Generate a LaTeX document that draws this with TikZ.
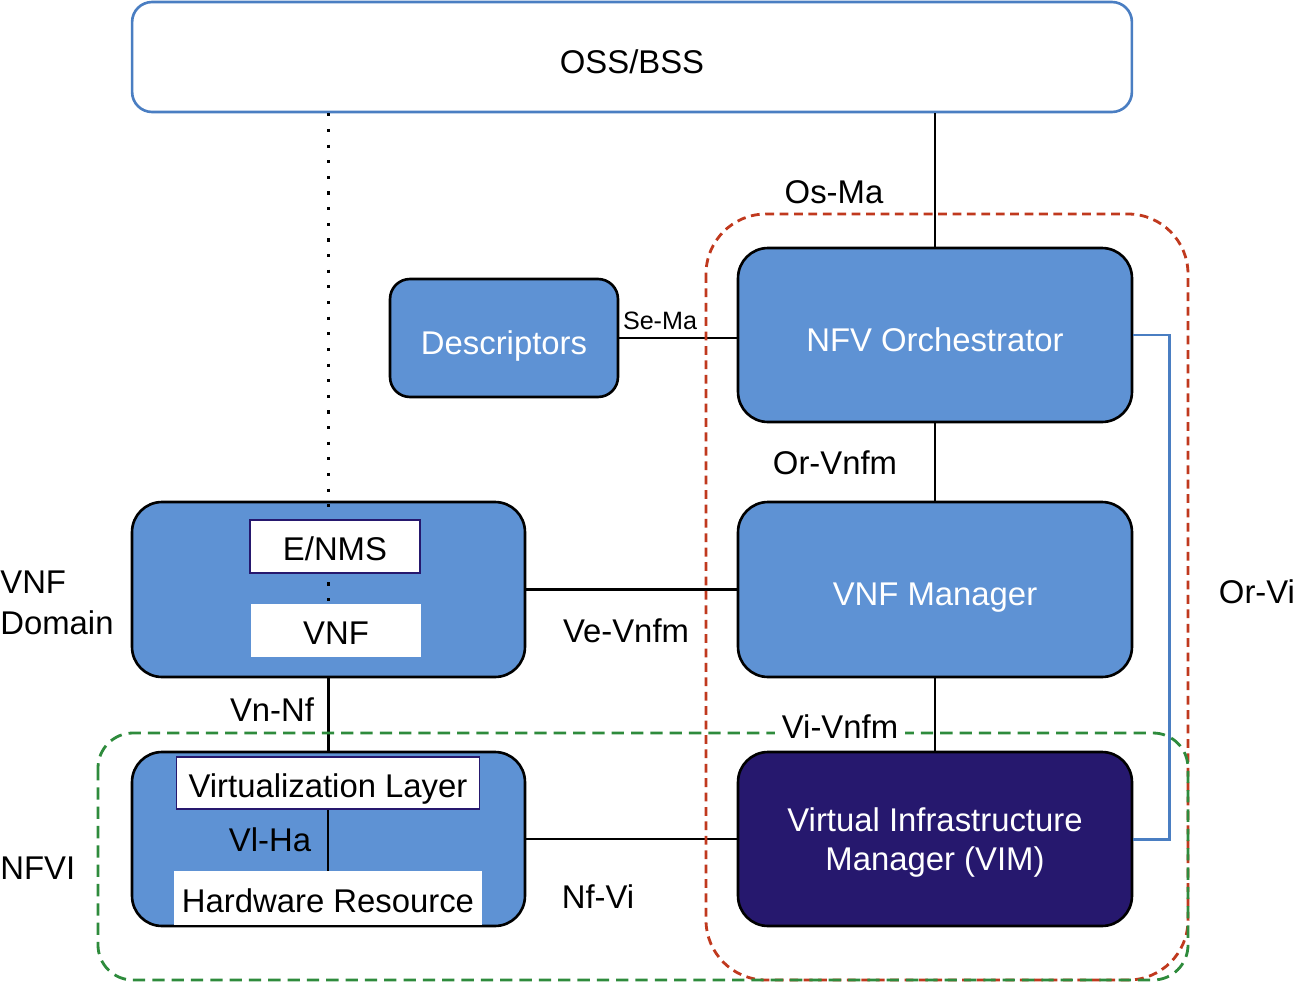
\documentclass[tikz,border=0pt]{standalone}
\usepackage{fontspec}
\setmainfont{Liberation Sans}
\usetikzlibrary{positioning, calc}
\definecolor{boxblue}{RGB}{94, 146, 212}
\definecolor{ossblue}{RGB}{74, 126, 194}
\definecolor{vimnavy}{RGB}{38, 24, 110}
\definecolor{framered}{RGB}{192, 57, 30}
\definecolor{framegreen}{RGB}{46, 139, 60}
\tikzstyle{block} = [draw=black, fill=boxblue, rounded corners=0.6cm, line width=1.5pt, text=white, align=center, font=\fontsize{18.7}{22.5}\selectfont, inner sep=0pt, text height=0.65cm, text depth=0pt]
\tikzstyle{inbox} = [draw=vimnavy, fill=white, line width=1.1pt, font=\fontsize{18.7}{22}\selectfont, inner sep=0pt, text height=0.56cm, text depth=0pt]
\tikzstyle{link} = [line width=1.5pt]
\tikzstyle{lbl} = [font=\fontsize{18.7}{23}\selectfont, inner sep=0pt]

\begin{document}
\begin{tikzpicture}[x=0.02cm, y=-0.02cm]
    \useasboundingbox (0,0) rectangle (1296,984);

    % Management side
    \node[block, draw=ossblue, fill=white, text=black, rounded corners=0.4cm, minimum width=20cm, minimum height=2.2cm] (oss) at (632,57) {OSS/BSS};
    \node[block, rounded corners=0.4cm, minimum width=4.56cm, minimum height=2.36cm] (desc) at (504,338) {Descriptors};
    \node[block, minimum width=7.88cm, minimum height=3.48cm] (nfvo) at (935,335) {NFV Orchestrator};
    \node[block, minimum width=7.88cm, minimum height=3.5cm] (vnfm) at (935,589.5) {VNF Manager};
    \node[block, fill=vimnavy, minimum width=7.88cm, minimum height=3.48cm, text height=, text depth=0pt] (vim) at (935,839) {Virtual Infrastructure\\Manager (VIM)};

    % VNF domain
    \node[block, minimum width=7.86cm, minimum height=3.5cm] (vnfdom) at (328.5,589.5) {};
    \node[inbox, draw=white, minimum width=3.36cm, minimum height=1.02cm] (vnf) at (336,630.5) {VNF};
    \draw[link, line width=1.8pt, dash pattern=on 1.8pt off 7.1pt] (vnfdom.north |- oss.south) -- (vnfdom.north |- vnf.north);
    \node[inbox, minimum width=3.4cm, minimum height=1.06cm] (enms) at (335,546.5) {E/NMS};

    % NFVI
    \node[block, minimum width=7.86cm, minimum height=3.48cm] (nfvi) at (328.5,839) {};
    \node[inbox, minimum width=6.06cm, minimum height=1.04cm] (virt) at (328,783) {Virtualization Layer};
    \node[inbox, draw=white, minimum width=6.12cm, minimum height=1.04cm] (hw) at (328,898) {Hardware Resource};

    % Reference points
    \draw[link] (nfvo.north) -- (nfvo.north |- oss.south);
    \draw[link] (desc.east) -- (desc.east -| nfvo.west);
    \draw[link] (nfvo) -- (vnfm);
    \draw[link] (vnfm) -- (vim);
    \draw[link] (vnfdom) -- (vnfm);
    \draw[link] (vnfdom) -- (nfvi);
    \draw[link] (nfvi) -- (vim);
    \draw[link] (virt) -- (hw);
    \draw[link, draw=ossblue, line width=1.7pt] (nfvo.east) -- ++(36,0) |- (vim.east);

    % Frames
    \draw[framered, line width=1.6pt, dash pattern=on 5pt off 3.2pt, rounded corners=1.2cm] (706,214) rectangle (1188,980);
    \draw[framegreen, line width=1.6pt, dash pattern=on 7pt off 4pt, rounded corners=0.7cm] (98,733) rectangle (1188,980);

    % Labels
    \node[lbl] (osma) at (834,192) {Os-Ma};
    \node[lbl, font=\fontsize{14.3}{17}\selectfont] (sema) at (660,321) {Se-Ma};
    \node[lbl] (orvnfm) at (835,463) {Or-Vnfm};
    \node[lbl] (vevnfm) at (626,631) {Ve-Vnfm};
    \node[lbl, fill=white, inner sep=4pt] (vivnfm) at (840,727) {Vi-Vnfm};
    \node[lbl] (vnnf) at (272,710) {Vn-Nf};
    \node[lbl] (vlha) at (270,840) {Vl-Ha};
    \node[lbl] (nfvil) at (598,897) {Nf-Vi};
    \node[lbl] (orvi) at (1257,592) {Or-Vi};
    \node[lbl, anchor=west, align=left] (domlbl) at (0,603) {VNF\\Domain};
    \node[lbl, anchor=west] (nfvilbl) at (0,868) {NFVI};
\end{tikzpicture}
\end{document}
